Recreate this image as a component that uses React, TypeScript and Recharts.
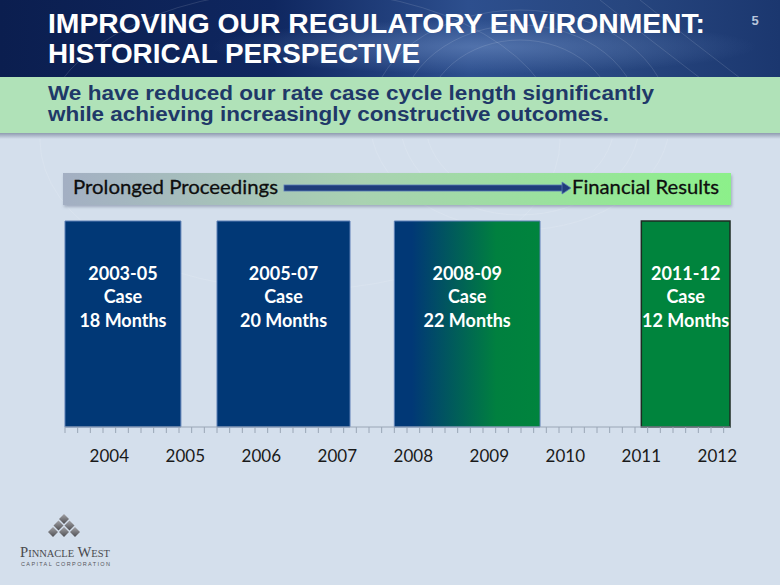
import { ComposedChart, XAxis, YAxis, ReferenceArea, Scatter } from 'recharts'

// months are counted from Jan 2003
const caseNames = ['2003-05', '2005-07', '2008-09', '2011-12']
const caseMonths = [18, 20, 22, 12]
const caseStart = [5, 29, 57, 96]
const caseEnd = [23.3, 50, 80, 110]
const caseFill = ['#013876', '#013876', 'url(#caseGrad)', '#00843d']
const caseStroke = ['#5c7fb5', '#5c7fb5', '#5c7fb5', '#1d2b22']

const years = [2004, 2005, 2006, 2007, 2008, 2009, 2010, 2011, 2012]
const axisDomain = [5, 110]

const yearTicks = years.map((y) => (y - 2003) * 12)
const minorTicks: number[] = []
for (let m = axisDomain[0]; m < axisDomain[1]; m += 2) minorTicks.push(m)
const allTicks = [...minorTicks, ...yearTicks].sort((a, b) => a - b)

const FONT = 'Lato, "Open Sans", sans-serif'

function AxisTick(props: any) {
  const { x, y, payload } = props
  const v = payload.value
  if (v % 12 === 0) {
    return (
      <text x={x} y={y + 35} textAnchor="middle" fontFamily={FONT} fontSize={17} fill="#1a1a1a">
        {2003 + v / 12}
      </text>
    )
  }
  return <line x1={x} x2={x} y1={y} y2={y + 6} stroke="#9aa6b6" strokeWidth={1} />
}

// text block drawn at the top centre of each case
function CaseText(props: any) {
  const { cx, cy, payload } = props
  const st = { fontFamily: FONT, fontWeight: 700, fontSize: 18, fill: '#fff' }
  return (
    <g>
      <text x={cx} y={cy + 59} textAnchor="middle" {...st}>{payload.name}</text>
      <text x={cx} y={cy + 82} textAnchor="middle" {...st}>Case</text>
      <text x={cx} y={cy + 106} textAnchor="middle" {...st}>{payload.months} Months</text>
    </g>
  )
}

function Backdrop() {
  return (
    <svg width={780} height={585} style={{ position: 'absolute', left: 0, top: 0 }}>
      <defs>
        <linearGradient id="hdr" x1="0" y1="0" x2="1" y2="0">
          <stop offset="0" stopColor="#0b1e4f" />
          <stop offset="0.35" stopColor="#0f2760" />
          <stop offset="0.6" stopColor="#2d4f8e" />
          <stop offset="0.8" stopColor="#27467f" />
          <stop offset="1" stopColor="#1b376f" />
        </linearGradient>
        <radialGradient id="glow" cx="0.62" cy="0.6" r="0.35">
          <stop offset="0" stopColor="#6f8fc4" stopOpacity="0.55" />
          <stop offset="1" stopColor="#6f8fc4" stopOpacity="0" />
        </radialGradient>
        <linearGradient id="banner" x1="0" y1="0" x2="1" y2="0">
          <stop offset="0" stopColor="#a3afc3" />
          <stop offset="0.45" stopColor="#a9d2b1" />
          <stop offset="1" stopColor="#8cf08a" />
        </linearGradient>
        <linearGradient id="shade" x1="0" y1="0" x2="0" y2="1">
          <stop offset="0" stopColor="#8f9bb0" />
          <stop offset="1" stopColor="#d4dfec" />
        </linearGradient>
        <linearGradient id="dia" x1="0" y1="0" x2="0" y2="1">
          <stop offset="0" stopColor="#a2a2a6" />
          <stop offset="1" stopColor="#4e4e52" />
        </linearGradient>
        <filter id="soft" x="-5%" y="-30%" width="110%" height="160%">
          <feDropShadow dx="1" dy="2" stdDeviation="1.5" floodColor="#6b7890" floodOpacity="0.5" />
        </filter>
      </defs>
      <rect x={0} y={0} width={780} height={585} fill="#d4dfec" />
      <rect x={0} y={0} width={780} height={78} fill="url(#hdr)" />
      <rect x={0} y={0} width={780} height={78} fill="url(#glow)" />
      <g fill="none" stroke="#ffffff" strokeOpacity={0.12}>
        <ellipse cx={520} cy={120} rx={150} ry={110} />
        <ellipse cx={520} cy={120} rx={120} ry={95} />
        <ellipse cx={520} cy={120} rx={95} ry={80} />
        <ellipse cx={300} cy={140} rx={260} ry={150} />
        <path d="M600 0 Q650 40 700 78" />
        <path d="M640 0 Q690 40 740 78" />
      </g>
      <text x={48} y={33} fontFamily="'Liberation Sans', Arial, sans-serif" fontWeight={700} fontSize={27} fill="#fff" textLength={657} lengthAdjust="spacingAndGlyphs">
        IMPROVING OUR REGULATORY ENVIRONMENT:
      </text>
      <text x={48} y={63} fontFamily="'Liberation Sans', Arial, sans-serif" fontWeight={700} fontSize={27} fill="#fff" textLength={372} lengthAdjust="spacingAndGlyphs">
        HISTORICAL PERSPECTIVE
      </text>
      <text x={755} y={25} textAnchor="middle" fontFamily="'Liberation Sans', Arial, sans-serif" fontWeight={700} fontSize={13} fill="#b9c5da">5</text>

      <rect x={0} y={133} width={780} height={6} fill="url(#shade)" />
      <rect x={0} y={77} width={780} height={56} fill="#b0e2b8" />
      <text x={48} y={100} fontFamily="'Liberation Sans', Arial, sans-serif" fontWeight={700} fontSize={20} fill="#1f3868" textLength={606} lengthAdjust="spacingAndGlyphs">
        We have reduced our rate case cycle length significantly
      </text>
      <text x={48} y={121} fontFamily="'Liberation Sans', Arial, sans-serif" fontWeight={700} fontSize={20} fill="#1f3868" textLength={561} lengthAdjust="spacingAndGlyphs">
        while achieving increasingly constructive outcomes.
      </text>

      <rect x={63} y={173} width={668} height={32} fill="url(#banner)" filter="url(#soft)" />
      <text x={73} y={194} fontFamily={FONT} fontSize={20} fill="#0e0e0e" stroke="#0e0e0e" strokeWidth={0.3} textLength={205} lengthAdjust="spacingAndGlyphs">Prolonged Proceedings</text>
      <text x={572} y={194} fontFamily={FONT} fontSize={20} fill="#0e0e0e" stroke="#0e0e0e" strokeWidth={0.3} textLength={147} lengthAdjust="spacingAndGlyphs">Financial Results</text>
      <rect x={284} y={185} width={280} height={6} fill="#1f3d7a" stroke="#5878b8" strokeWidth={0.8} />
      <path d="M562 182 L571 188 L562 194 Z" fill="#1f3d7a" stroke="#5878b8" strokeWidth={0.8} />

      <g fill="url(#dia)">
        {[[64, 519], [58.5, 525.5], [69.5, 525.5], [53, 532], [64, 532], [75, 532]].map(([cx, cy], i) => (
          <path key={i} d={`M${cx} ${cy - 5} L${cx + 5} ${cy} L${cx} ${cy + 5} L${cx - 5} ${cy} Z`} />
        ))}
      </g>
      <text x={20} y={557} fontFamily="'Liberation Serif', serif" fontSize={14} fill="#4a4a4e" style={{ fontVariant: 'small-caps' }} textLength={90} lengthAdjust="spacingAndGlyphs">
        Pinnacle West
      </text>
      <text x={21} y={566} fontFamily="'Liberation Sans', sans-serif" fontSize={5.5} fill="#55555a" textLength={89} lengthAdjust="spacing">
        CAPITAL CORPORATION
      </text>
    </svg>
  )
}

export default function App() {
  const data = caseNames.map((name, i) => ({
    name,
    months: caseMonths[i],
    start: caseStart[i],
    end: caseEnd[i],
    mid: (caseStart[i] + caseEnd[i]) / 2,
    top: 1,
  }))
  return (
    <div style={{ position: 'absolute', left: 0, top: 0, width: 780, height: 585, overflow: 'hidden' }}>
      <Backdrop />
      <div style={{ position: 'absolute', left: 0, top: 0 }}>
        <ComposedChart width={780} height={585} data={data} margin={{ top: 221, right: 50, bottom: 118, left: 65 }}>
          <defs>
            <linearGradient id="caseGrad" x1="0" y1="0" x2="1" y2="0">
              <stop offset="0" stopColor="#013876" />
              <stop offset="0.12" stopColor="#013876" />
              <stop offset="0.7" stopColor="#00803f" />
              <stop offset="1" stopColor="#00843d" />
            </linearGradient>
          </defs>
          <XAxis
            type="number"
            dataKey="mid"
            domain={axisDomain}
            allowDataOverflow
            ticks={allTicks}
            interval={0}
            tick={<AxisTick />}
            tickLine={false}
            tickSize={0}
            tickMargin={0}
            axisLine={{ stroke: '#9aa6b6' }}
            height={40}
          />
          <YAxis type="number" dataKey="top" domain={[0, 1]} allowDataOverflow hide />
          {data.map((d, i) => (
            <ReferenceArea
              key={d.name}
              x1={d.start}
              x2={d.end}
              y1={0}
              y2={1}
              fill={caseFill[i]}
              fillOpacity={1}
              stroke={caseStroke[i]}
              strokeWidth={i === 3 ? 1.5 : 1}
            />
          ))}
          <Scatter data={data} isAnimationActive={false} shape={<CaseText />} />
        </ComposedChart>
      </div>
    </div>
  )
}
